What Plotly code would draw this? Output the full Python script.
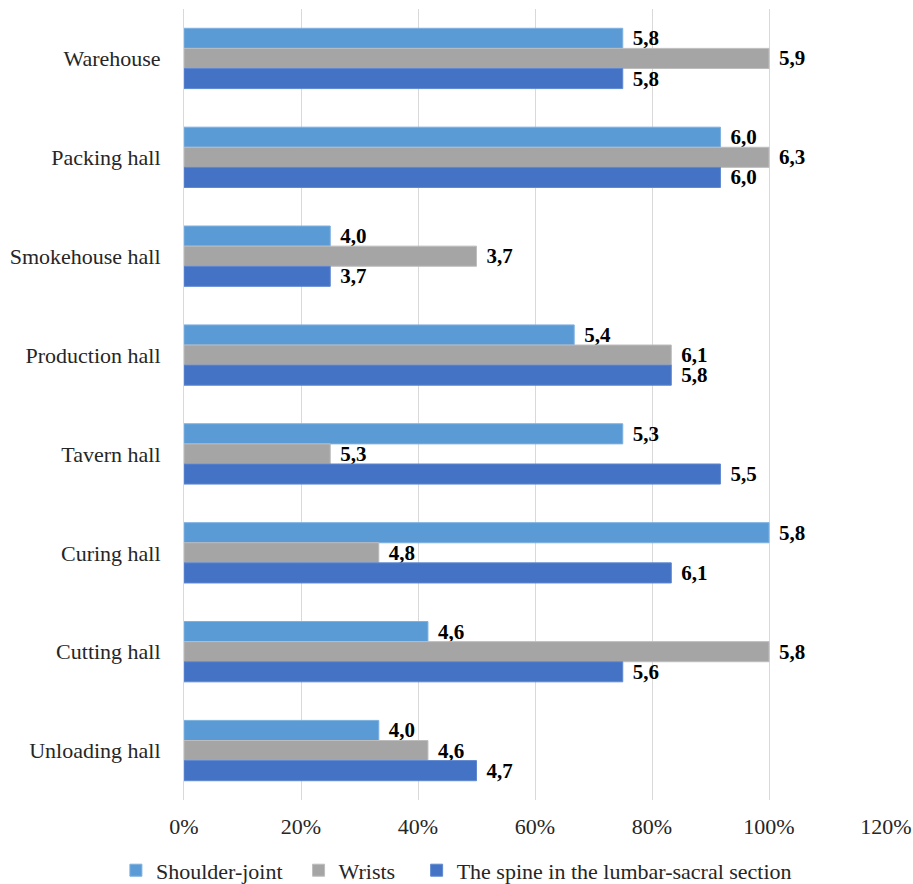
import plotly.graph_objects as go

# Workplaces (top to bottom) and body regions
halls = ["Warehouse", "Packing hall", "Smokehouse hall", "Production hall",
         "Tavern hall", "Curing hall", "Cutting hall", "Unloading hall"]

# Share of workers reporting complaints (fraction of 1)
shoulder = [0.75, 0.917, 0.25, 0.667, 0.75, 1.0, 0.417, 0.333]
wrists = [1.0, 1.0, 0.50, 0.833, 0.25, 0.333, 1.0, 0.417]
spine = [0.75, 0.917, 0.25, 0.833, 0.917, 0.833, 0.75, 0.50]

# Mean load scores printed next to each bar
shoulder_lbl = ["5,8", "6,0", "4,0", "5,4", "5,3", "5,8", "4,6", "4,0"]
wrists_lbl = ["5,9", "6,3", "3,7", "6,1", "5,3", "4,8", "5,8", "4,6"]
spine_lbl = ["5,8", "6,0", "3,7", "5,8", "5,5", "6,1", "5,6", "4,7"]

NB = "\u00a0"
series = [
    ("Shoulder-joint" + NB * 2, shoulder, shoulder_lbl, "#5B9BD5", "#7DB0E0"),
    ("Wrists" + NB * 3, wrists, wrists_lbl, "#A5A5A5", "#BDBDBD"),
    ("The spine in the lumbar-sacral section", spine, spine_lbl, "#4472C4", "#5F88D0"),
]

FONT = "'Times New Roman', 'Liberation Serif', 'DejaVu Serif', serif"
PAD = "\u00a0\u200a"
TXT = dict(family=FONT, size=22, color="#262626", weight="normal")

fig = go.Figure()
for name, vals, lbls, color, edge in series:
    fig.add_trace(go.Bar(
        name=name,
        y=halls,
        x=vals,
        orientation="h",
        marker=dict(color=color, line=dict(color=edge, width=1)),
        text=[PAD + t for t in lbls],
        textposition="outside",
        textfont=dict(family=FONT, size=21, color="#000000", weight="bold"),
        constraintext="none",
        cliponaxis=False,
    ))

fig.update_layout(
    width=913,
    height=884,
    margin=dict(l=184, r=27, t=9, b=84, autoexpand=False),
    paper_bgcolor="white",
    plot_bgcolor="white",
    barmode="group",
    bargap=0.39,
    bargroupgap=0,
    font=TXT,
    showlegend=True,
    legend=dict(
        orientation="h",
        x=-0.097, xanchor="left",
        y=-0.089, yanchor="middle",
        font=TXT,
        traceorder="normal",
        bgcolor="rgba(0,0,0,0)",
    ),
)

fig.update_xaxes(
    range=[0, 1.2],
    tickvals=[0, 0.2, 0.4, 0.6, 0.8, 1.0, 1.2],
    tickformat=".0%",
    tickfont=TXT,
    showgrid=True,
    gridcolor="#D9D9D9",
    gridwidth=1,
    zeroline=False,
    showline=False,
    ticks="",
    ticklabelstandoff=11,
    automargin=False,
)

fig.update_yaxes(
    autorange="reversed",
    tickfont=TXT,
    showgrid=False,
    zeroline=False,
    showline=True,
    linecolor="#D9D9D9",
    linewidth=1,
    ticks="",
    ticklabelstandoff=18,
    automargin=False,
)

fig.write_html("out.html")
